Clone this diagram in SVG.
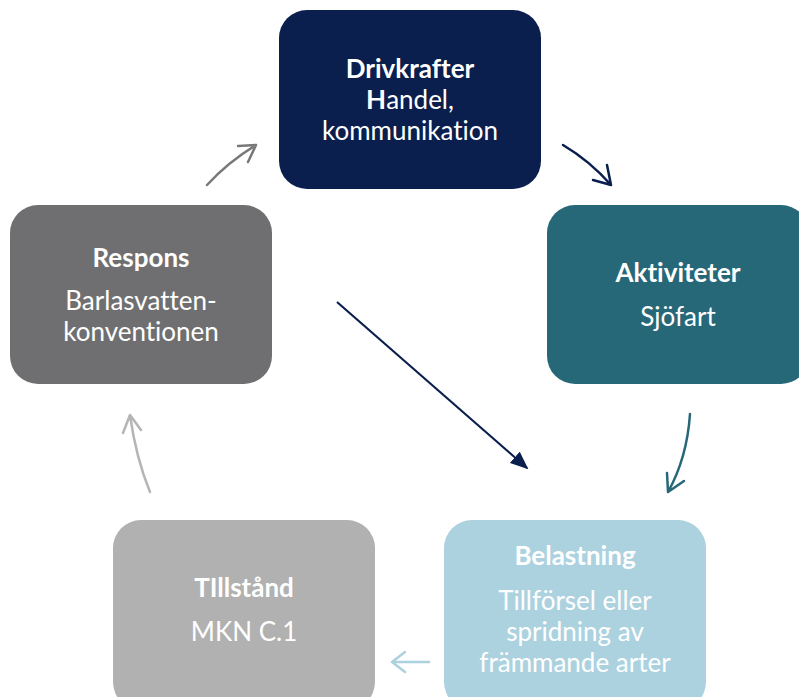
<svg xmlns="http://www.w3.org/2000/svg" width="799" height="697" viewBox="0 0 799 697">
<style>
text{font-family:Lato,"Open Sans",sans-serif;fill:#fff;text-anchor:middle;font-size:26px;font-variant-ligatures:none}
.b{font-weight:bold;font-size:26px}
.c{fill:none;stroke-width:2.5;stroke-linecap:round;stroke-linejoin:round}
</style>
<defs>
<marker id="fa" viewBox="0 0 10 10" refX="9" refY="5" markerWidth="18" markerHeight="15" markerUnits="userSpaceOnUse" orient="auto" preserveAspectRatio="none"><path d="M0,0L10,5L0,10z" fill="#0a1f4d"/></marker>
</defs>
<rect width="799" height="697" fill="#fff"/>
<g id="drivkrafter">
<rect x="279" y="10" width="262" height="179" rx="28" fill="#0a1f4d"/>
<text x="410" y="78" class="b">Drivkrafter</text>
<text x="410" y="109"><tspan class="b">H</tspan>andel,</text>
<text x="410" y="140">kommunikation</text>
</g>
<g id="aktiviteter">
<rect x="547" y="205" width="262" height="179" rx="28" fill="#276878"/>
<text x="678" y="282" class="b">Aktiviteter</text>
<text x="678" y="326">Sjöfart</text>
</g>
<g id="belastning">
<rect x="444" y="520" width="262" height="190" rx="28" fill="#acd2df"/>
<text x="575" y="565" class="b">Belastning</text>
<text x="575" y="610">Tillförsel eller</text>
<text x="575" y="641">spridning av</text>
<text x="575" y="672">främmande arter</text>
</g>
<g id="tillstand">
<rect x="113" y="520" width="262" height="190" rx="28" fill="#b1b1b1"/>
<text x="244" y="597" class="b">TIllstånd</text>
<text x="244" y="641">MKN C.1</text>
</g>
<g id="respons">
<rect x="10" y="205" width="262" height="179" rx="28" fill="#6f6f71"/>
<text x="141" y="267" class="b">Respons</text>
<text x="141" y="310">Barlasvatten-</text>
<text x="141" y="341">konventionen</text>
</g>
<g id="connectors">
<path class="c" stroke="#787878" d="M207,185 Q228,162 256,145 M238,146 L256,145 L248,162"/>
<path class="c" stroke="#0a1f4d" d="M563,145 Q590,161 611,185 M593,180 L611,185 L607,165"/>
<path class="c" stroke="#276878" d="M690,414 Q687,458 668,492 M667,473 L668,492 L684,481"/>
<path class="c" stroke="#acd2df" d="M429,662 L392,662 M405,652 L392,662 L405,672"/>
<path class="c" stroke="#b5b5b5" d="M150,492 Q136,458 130,415 M123,433 L130,415 L141,430"/>
<path stroke="#0a1f4d" stroke-width="2.2" fill="none" d="M337,302 L527,468" marker-end="url(#fa)"/>
</g>
</svg>
